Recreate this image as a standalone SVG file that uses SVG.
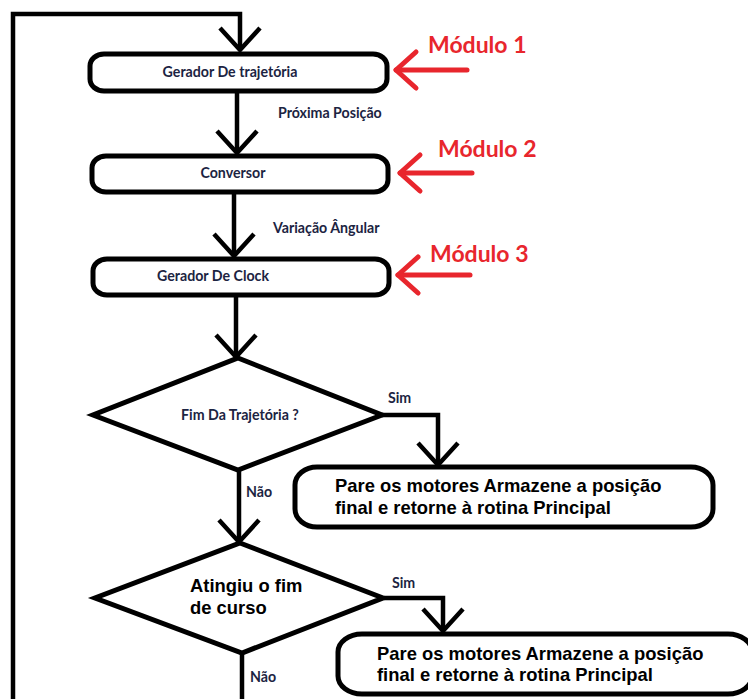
<svg xmlns="http://www.w3.org/2000/svg" width="748" height="699" viewBox="0 0 748 699">
  <defs>
    <style>
      .box { fill: #ffffff; stroke: #000000; stroke-width: 5; }
      .dec { fill: #ffffff; stroke: #000000; stroke-width: 5; stroke-linejoin: miter; }
      .wire { fill: none; stroke: #000000; stroke-width: 4.5; }
      .tag { fill: none; stroke: #e8262d; stroke-width: 5; stroke-linecap: round; }
      .lbl { font-family: Lato, "Open Sans", sans-serif; font-weight: bold; font-size: 14.2px; fill: #1c2442; }
      .big { font-family: "Liberation Sans", Arial, sans-serif; font-weight: bold; font-size: 18.4px; fill: #000000; }
      .mod { font-family: Lato, "Open Sans", sans-serif; font-weight: bold; font-size: 23px; fill: #e8262d; }
    </style>
    <!-- open chevron heads, sized in user units -->
    <marker id="chev" markerUnits="userSpaceOnUse" orient="auto" markerWidth="60" markerHeight="60" refX="0" refY="0" viewBox="-30 -30 60 60" overflow="visible">
      <path d="M -22 -20 L 0 0 L -22 20" fill="none" stroke="#000000" stroke-width="4.5"/>
    </marker>
    <marker id="chevRed" markerUnits="userSpaceOnUse" orient="auto" markerWidth="60" markerHeight="60" refX="0" refY="0" viewBox="-30 -30 60 60" overflow="visible">
      <path d="M -20 -18 L 0 0 L -20 18" fill="none" stroke="#e8262d" stroke-width="5" stroke-linecap="round" stroke-linejoin="round"/>
    </marker>
  </defs>

  <rect width="748" height="699" fill="#ffffff"/>

  <g id="connectors">
    <path class="wire" d="M 13 705 L 13 14 L 240 14 L 240 50" marker-end="url(#chev)"/>
    <path class="wire" d="M 237 92 L 237 153" marker-end="url(#chev)"/>
    <path class="wire" d="M 234 193 L 234 256" marker-end="url(#chev)"/>
    <path class="wire" d="M 236 296 L 236 357" marker-end="url(#chev)"/>
    <path class="wire" d="M 382 415 L 438 415 L 438 465" marker-end="url(#chev)"/>
    <path class="wire" d="M 239 470 L 239 542" marker-end="url(#chev)"/>
    <path class="wire" d="M 384 598 L 443 598 L 443 631" marker-end="url(#chev)"/>
    <path class="wire" d="M 242 653 L 242 705"/>
    <text class="lbl" x="278" y="118">Próxima Posição</text>
    <text class="lbl" x="273" y="233">Variação Ângular</text>
    <text class="lbl" x="388" y="403">Sim</text>
    <text class="lbl" x="246" y="497">Não</text>
    <text class="lbl" x="392" y="588">Sim</text>
    <text class="lbl" x="250" y="682">Não</text>
  </g>

  <g id="gerador-trajetoria">
    <rect class="box" x="90" y="54" width="297" height="37" rx="14" ry="12"/>
    <text class="lbl" x="230" y="77" text-anchor="middle">Gerador De trajetória</text>
  </g>

  <g id="conversor">
    <rect class="box" x="92" y="156" width="296" height="36" rx="14" ry="12"/>
    <text class="lbl" x="233" y="178" text-anchor="middle">Conversor</text>
  </g>

  <g id="gerador-clock">
    <rect class="box" x="93" y="259" width="296" height="36" rx="14" ry="12"/>
    <text class="lbl" x="213" y="281" text-anchor="middle">Gerador De Clock</text>
  </g>

  <g id="fim-trajetoria">
    <polygon class="dec" points="238,358 382,415 238,470 93,415"/>
    <text class="lbl" x="240" y="420" text-anchor="middle">Fim Da Trajetória ?</text>
  </g>

  <g id="parar-1">
    <rect class="box" x="295" y="467" width="418" height="60" rx="22" ry="18"/>
    <text class="big" x="335" y="491.5">Pare os motores Armazene a posição</text>
    <text class="big" x="335" y="513.5">final e retorne à rotina Principal</text>
  </g>

  <g id="fim-curso">
    <polygon class="dec" points="240,543 383,598 242,653 95,598"/>
    <text class="big" x="190" y="591.5">Atingiu o fim</text>
    <text class="big" x="190" y="613.5">de curso</text>
  </g>

  <g id="parar-2">
    <rect class="box" x="338" y="634" width="414" height="60" rx="24" ry="18"/>
    <text class="big" x="377" y="659.5">Pare os motores Armazene a posição</text>
    <text class="big" x="377" y="680.5">final e retorne à rotina Principal</text>
  </g>

  <g id="modulo-1">
    <path class="tag" d="M 467 70 L 396 70" marker-end="url(#chevRed)"/>
    <text class="mod" x="428" y="53">Módulo 1</text>
  </g>

  <g id="modulo-2">
    <path class="tag" d="M 472 173 L 400 173" marker-end="url(#chevRed)"/>
    <text class="mod" x="438" y="157">Módulo 2</text>
  </g>

  <g id="modulo-3">
    <path class="tag" d="M 470 275 L 398 275" marker-end="url(#chevRed)"/>
    <text class="mod" x="430" y="262">Módulo 3</text>
  </g>
</svg>
